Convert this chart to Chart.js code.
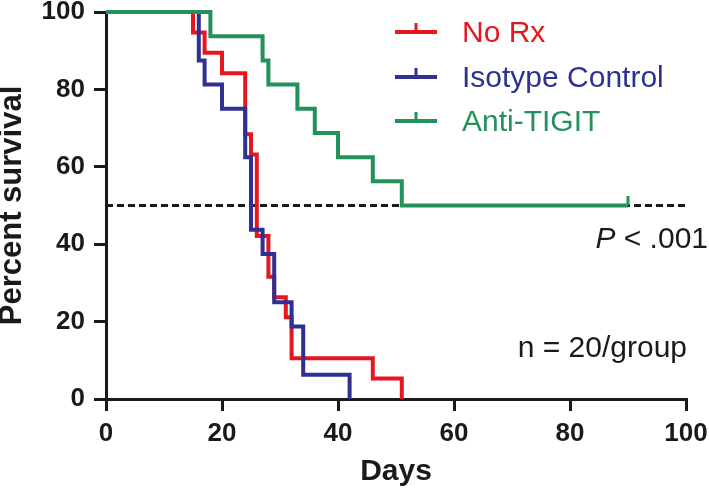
<!DOCTYPE html>
<html>
<head>
<meta charset="utf-8">
<script src="https://cdn.jsdelivr.net/npm/chart.js@4.4.1/dist/chart.umd.min.js"></script>
<style>
  html, body { margin: 0; padding: 0; background: #fff; }
  #wrap { width: 709px; height: 490px; }
</style>
</head>
<body>
<div id="wrap"><canvas id="chart" width="709" height="490"></canvas></div>
<script>
// Kaplan-Meier steps: day of event, survival after it
const noRxDays = [0, 15, 17, 20, 24, 25, 26, 28, 29, 31, 32, 46, 51];
const noRxSurvival = [100, 94.7, 89.5, 84.2, 68.4, 63.2, 42.1, 31.6, 26.3, 21.1, 10.5, 5.3, 0];
const isoDays = [0, 16, 17, 20, 24, 25, 27, 29, 32, 34, 42];
const isoSurvival = [100, 87.5, 81.25, 75, 62.5, 43.75, 37.5, 25, 18.75, 6.25, 0];
const tigitDays = [0, 18, 27, 28, 33, 36, 40, 46, 51, 90];
const tigitSurvival = [100, 93.75, 87.5, 81.25, 75, 68.75, 62.5, 56.25, 50, 50];
const tigitCensorDays = [90];
const tigitCensorSurvival = [50];
const medianDays = [0, 100];
const medianSurvival = [50, 50];

const seriesLabels = ['No Rx', 'Isotype Control', 'Anti-TIGIT'];
const seriesColors = ['#e6161e', '#2e3192', '#22915a'];
const pValueText = ['P', ' < .001'];
const groupText = 'n = 20/group';

const ink = '#1a1a1a';
const family = "'Liberation Sans', Arial, Helvetica, sans-serif";
Chart.defaults.font.family = family;

function toPoints(xs, ys) {
  return xs.map((x, i) => ({ x: x, y: ys[i] }));
}

// small upward tick used for censored observations
function censorMark(color) {
  const c = document.createElement('canvas');
  c.width = 4;
  c.height = 20;
  const g = c.getContext('2d');
  g.fillStyle = color;
  g.fillRect(0.5, 0, 3, 10);
  return c;
}

function stepLine(label, xs, ys, color, order) {
  return {
    label: label,
    data: toPoints(xs, ys),
    borderColor: color,
    backgroundColor: color,
    borderWidth: 4,
    stepped: true,
    pointRadius: 0,
    fill: false,
    clip: false,
    order: order,
    inLegend: true
  };
}

const notesPlugin = {
  id: 'notes',
  afterDraw(chart) {
    const ctx = chart.ctx;
    ctx.save();

    // legend
    const rows = [42, 87, 131];
    chart.data.datasets.filter(d => d.inLegend).forEach((d, i) => {
      const base = rows[i];
      const ly = base - 10;
      ctx.strokeStyle = d.borderColor;
      ctx.lineWidth = 4;
      ctx.beginPath();
      ctx.moveTo(395, ly);
      ctx.lineTo(437, ly);
      ctx.stroke();
      ctx.lineWidth = 3;
      ctx.beginPath();
      ctx.moveTo(416, ly);
      ctx.lineTo(416, ly - 9);
      ctx.stroke();
      ctx.fillStyle = d.borderColor;
      ctx.font = '30px ' + family;
      ctx.textBaseline = 'alphabetic';
      ctx.textAlign = 'left';
      ctx.fillText(d.label, 462, base);
    });

    // p value
    ctx.fillStyle = ink;
    ctx.textBaseline = 'alphabetic';
    ctx.textAlign = 'left';
    ctx.font = 'italic 30px ' + family;
    const wP = ctx.measureText(pValueText[0]).width;
    ctx.font = '30px ' + family;
    const wRest = ctx.measureText(pValueText[1]).width;
    const startX = 708 - wP - wRest;
    ctx.font = 'italic 30px ' + family;
    ctx.fillText(pValueText[0], startX, 248);
    ctx.font = '30px ' + family;
    ctx.fillText(pValueText[1], startX + wP, 248);

    ctx.textAlign = 'right';
    ctx.fillText(groupText, 687, 357);
    ctx.restore();
  }
};

new Chart(document.getElementById('chart'), {
  type: 'line',
  data: {
    datasets: [
      stepLine(seriesLabels[0], noRxDays, noRxSurvival, seriesColors[0], 2),
      stepLine(seriesLabels[1], isoDays, isoSurvival, seriesColors[1], 1),
      stepLine(seriesLabels[2], tigitDays, tigitSurvival, seriesColors[2], 0),
      {
        label: 'censored',
        data: toPoints(tigitCensorDays, tigitCensorSurvival),
        showLine: false,
        pointStyle: censorMark(seriesColors[2]),
        pointRadius: 10,
        clip: false,
        order: 0
      },
      {
        label: 'median',
        data: toPoints(medianDays, medianSurvival),
        borderColor: ink,
        borderWidth: 3,
        borderDash: [7, 4],
        pointRadius: 0,
        clip: false,
        order: 3
      }
    ]
  },
  options: {
    responsive: false,
    animation: false,
    layout: { padding: { left: 0, top: 12, right: 23, bottom: 0 } },
    plugins: {
      legend: { display: false },
      tooltip: { enabled: false }
    },
    scales: {
      x: {
        type: 'linear',
        min: 0,
        max: 100,
        afterFit(scale) {
          scale.height = 91;
          scale.paddingLeft = 0;
          scale.paddingRight = 0;
        },
        ticks: {
          stepSize: 20,
          maxRotation: 0,
          padding: 7,
          color: ink,
          font: { size: 26, weight: 'bold' }
        },
        grid: { drawOnChartArea: false, drawTicks: true, tickLength: 12, color: ink, lineWidth: 3 },
        border: { display: true, color: ink, width: 3 },
        title: {
          display: true,
          text: 'Days',
          color: ink,
          font: { size: 30, weight: 'bold' },
          padding: { top: 0, bottom: 0 }
        }
      },
      y: {
        min: 0,
        max: 100,
        afterFit(scale) {
          scale.width = 106;
          scale.paddingTop = 0;
          scale.paddingBottom = 0;
        },
        ticks: {
          stepSize: 20,
          padding: 9,
          color: ink,
          font: { size: 26, weight: 'bold', lineHeight: 0.8 }
        },
        grid: { drawOnChartArea: false, drawTicks: true, tickLength: 12, color: ink, lineWidth: 3 },
        border: { display: true, color: ink, width: 3 },
        title: {
          display: true,
          text: 'Percent survival',
          color: ink,
          font: { size: 31, weight: 'bold', lineHeight: 0.8 },
          padding: { top: 0, bottom: 0 }
        }
      }
    }
  },
  plugins: [notesPlugin]
});
</script>
</body>
</html>
